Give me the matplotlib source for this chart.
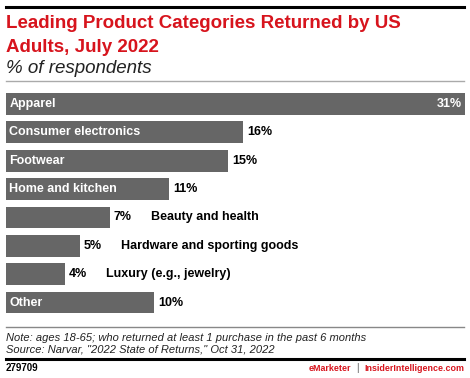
import matplotlib
matplotlib.use("Agg")
import matplotlib.pyplot as plt
from matplotlib.lines import Line2D

plt.rcParams['font.family'] = ['Liberation Sans', 'DejaVu Sans']

categories = ["Apparel", "Consumer electronics", "Footwear", "Home and kitchen",
              "Beauty and health", "Hardware and sporting goods",
              "Luxury (e.g., jewelry)", "Other"]
values = [31, 16, 15, 11, 7, 5, 4, 10]
# labels that don't fit in the bar go outside
label_inside = [True, True, True, True, False, False, False, True]

RED = "#d7141d"
BAR = "#666666"

W, H = 470, 378
fig = plt.figure(figsize=(W / 100, H / 100), dpi=100)


def fx(px):
    return px / W


def fy(py):
    return 1 - py / H


def hline(y, x0, x1, color, lw):
    fig.add_artist(Line2D([fx(x0), fx(x1)], [fy(y), fy(y)], color=color, lw=lw,
                          transform=fig.transFigure))


# header
hline(6.5, 6, 464, "black", 2.2)
fig.text(fx(6), fy(28.5), "Leading Product Categories Returned by US", color=RED,
         fontsize=13.5, fontweight="bold", va="baseline")
fig.text(fx(6), fy(51.5), "Adults, July 2022", color=RED,
         fontsize=13.5, fontweight="bold", va="baseline")
fig.text(fx(6), fy(73), "% of respondents", color="#222222",
         fontsize=13.5, style="italic", va="baseline")
hline(81, 6, 464, "#aaaaaa", 1.0)

# bars
top, bottom = 89.8, 316.7
ax = fig.add_axes([fx(6), fy(bottom), fx(465) - fx(6), (bottom - top) / H])
ypos = list(range(len(categories)))
ax.barh(ypos, values, height=0.77, color=BAR)
ax.set_xlim(0, 31)
ax.set_ylim(len(categories) - 0.5, -0.5)
ax.axis("off")

unit = (465 - 6) / 31.0  # px per percentage point
for i, (cat, v, inside) in enumerate(zip(categories, values, label_inside)):
    if inside:
        ax.text(0.22, i, cat, color="white", fontsize=9, fontweight="bold",
                va="center", ha="left")
    if v == max(values):
        ax.text(v - 0.2, i, f"{v}%", color="white", fontsize=9,
                fontweight="bold", va="center", ha="right")
    else:
        ax.text(v + 4 / unit, i, f"{v}%", color="black", fontsize=9,
                fontweight="bold", va="center", ha="left")
    if not inside:
        ax.text(v + 41 / unit, i, cat, color="black", fontsize=9,
                fontweight="bold", va="center", ha="left")

# footer
hline(327, 6, 464, "#888888", 1.0)
fig.text(fx(6), fy(341), "Note: ages 18-65; who returned at least 1 purchase in the past 6 months",
         fontsize=8, style="italic", color="#222222", va="baseline")
fig.text(fx(6), fy(353), 'Source: Narvar, "2022 State of Returns," Oct 31, 2022',
         fontsize=8, style="italic", color="#222222", va="baseline")
hline(359, 6, 464, "black", 2.2)
fig.text(fx(6), fy(371), "279709", fontsize=7, fontweight="bold", va="baseline")

t3 = fig.text(fx(464), fy(371), "InsiderIntelligence.com", color=RED, fontsize=6.4,
              fontweight="bold", ha="right", va="baseline")
fig.canvas.draw()
r = fig.canvas.get_renderer()
bb = t3.get_window_extent(r)
x_bar = bb.x0 - 7
fig.text(x_bar / W, fy(371), "|", color="#555555", fontsize=7, ha="center",
         va="baseline")
fig.text((x_bar - 6) / W, fy(371), "eMarketer", color=RED, fontsize=6.4,
         fontweight="bold", ha="right", va="baseline")

fig.savefig("out.png", dpi=100)
